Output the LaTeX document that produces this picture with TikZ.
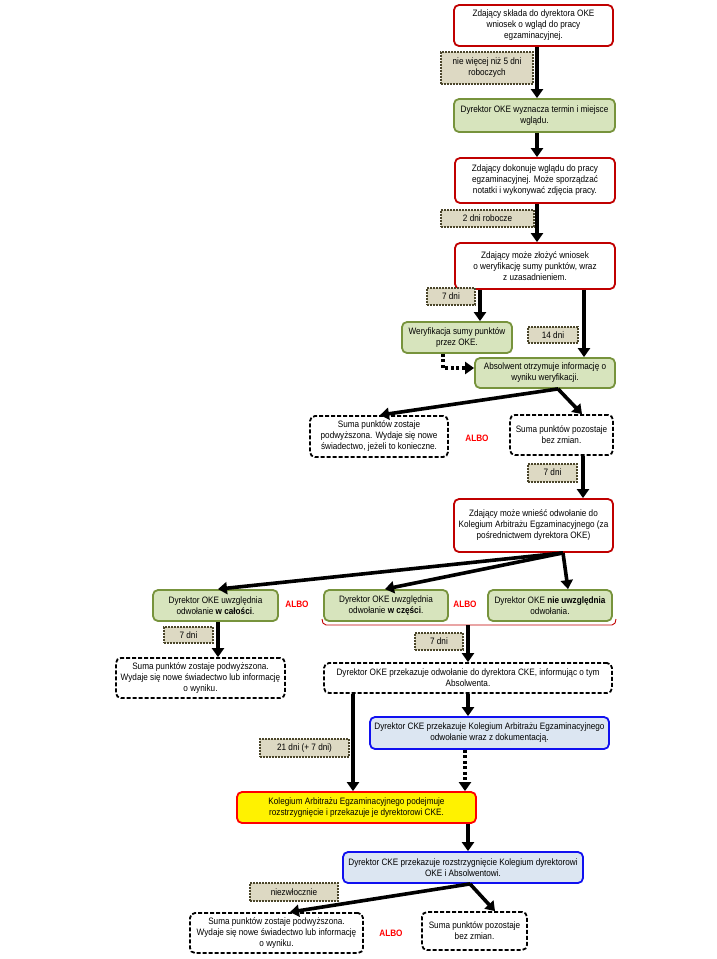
\documentclass[tikz,border=0pt]{standalone}
\usepackage{fontspec}
\setmainfont{Liberation Sans}[FakeStretch=0.88]
\usetikzlibrary{arrows.meta}
\definecolor{cred}{HTML}{C00000}
\definecolor{cgreen}{HTML}{D7E4BD}
\definecolor{cgreenD}{HTML}{77933C}
\definecolor{cblue}{HTML}{1010F0}
\definecolor{cblueF}{HTML}{DCE6F2}
\definecolor{cyelD}{HTML}{FF0000}
\definecolor{clab}{HTML}{DDD9C3}
\definecolor{clabD}{HTML}{4A452A}
\begin{document}
\begin{tikzpicture}[x=1pt,y=-1pt,
  box/.style={rounded corners=5pt, line width=1.8pt, align=center, inner sep=1pt, font=\fontsize{9.3}{11}\selectfont},
  redbox/.style={box, draw=cred, fill=white},
  greenbox/.style={box, draw=cgreenD, fill=cgreen},
  bluebox/.style={box, draw=cblue, fill=cblueF},
  yellowbox/.style={box, draw=cyelD, fill=yellow},
  dashbox/.style={box, draw=black, dash pattern=on 4pt off 2pt},
  lab/.style={draw=clabD, fill=clab, line width=2pt, dash pattern=on 2pt off 1pt, align=center, inner sep=1pt, font=\fontsize{9.3}{11}\selectfont},
  arr/.style={line width=3.6pt, -{Triangle[length=9pt,width=12pt]}},
  dotarr/.style={arr, dash pattern=on 3pt off 2.5pt},
  albo/.style={text=red, font=\fontsize{9.3}{11}\selectfont\bfseries}
]
\useasboundingbox (0,0) rectangle (716,959);

% nodes
\node[redbox, minimum width=159pt, minimum height=41pt] (b1) at (533.5,25.5) {Zdający składa do dyrektora OKE\\wniosek o wgląd do pracy\\egzaminacyjnej.};
\node[lab, minimum width=92pt, minimum height=32pt] (l1) at (487,68) {nie więcej niż 5 dni\\roboczych};
\node[greenbox, minimum width=161pt, minimum height=33pt] (b2) at (534.5,115.5) {Dyrektor OKE wyznacza termin i miejsce\\wglądu.};
\node[redbox, minimum width=160pt, minimum height=45pt] (b3) at (535,180.5) {Zdający dokonuje wglądu do pracy\\egzaminacyjnej. Może sporządzać\\notatki i wykonywać zdjęcia pracy.};
\node[lab, minimum width=93pt, minimum height=17pt] (l2) at (487.5,218.5) {2 dni robocze};
\node[redbox, minimum width=160pt, minimum height=46pt] (b4) at (535,266) {Zdający może złożyć wniosek\\o weryfikację sumy punktów, wraz\\z uzasadnieniem.};
\node[lab, minimum width=48pt, minimum height=17pt] (l3) at (451,296.5) {7 dni};
\node[greenbox, minimum width=110pt, minimum height=31pt] (b5) at (457,337.5) {Weryfikacja sumy punktów\\przez OKE.};
\node[lab, minimum width=50pt, minimum height=16pt] (l4) at (553,335) {14 dni};
\node[greenbox, minimum width=140pt, minimum height=30pt] (b6) at (545,373) {Absolwent otrzymuje informację o\\wyniku weryfikacji.};
\node[dashbox, minimum width=138pt, minimum height=41pt] (b7) at (379,436.5) {Suma punktów zostaje\\podwyższona. Wydaje się nowe\\świadectwo, jeżeli to konieczne.};
\node[albo] (a1) at (477,438) {ALBO};
\node[dashbox, minimum width=103pt, minimum height=40pt] (b8) at (561.5,435) {Suma punktów pozostaje\\bez zmian.};
\node[lab, minimum width=49pt, minimum height=18pt] (l5) at (552.5,472.5) {7 dni};
\node[redbox, minimum width=159pt, minimum height=53pt] (b9) at (533.5,525.5) {Zdający może wnieść odwołanie do\\Kolegium Arbitrażu Egzaminacyjnego (za\\pośrednictwem dyrektora OKE)};
\node[greenbox, minimum width=125pt, minimum height=31pt] (b10) at (215.5,605.5) {Dyrektor OKE uwzględnia\\odwołanie \textbf{w całości}.};
\node[albo] (a2) at (297,604) {ALBO};
\node[greenbox, minimum width=124pt, minimum height=31pt] (b11) at (386,605.5) {Dyrektor OKE uwzględnia\\odwołanie \textbf{w części}.};
\node[albo] (a3) at (465,604) {ALBO};
\node[greenbox, minimum width=124pt, minimum height=31pt] (b13) at (550,605.5) {Dyrektor OKE \textbf{nie uwzględnia}\\odwołania.};
\node[lab, minimum width=49pt, minimum height=16pt] (l6) at (188.5,635) {7 dni};
\node[dashbox, minimum width=169pt, minimum height=40pt] (b12) at (200.5,678) {Suma punktów zostaje podwyższona.\\Wydaje się nowe świadectwo lub informację\\o wyniku.};
\node[lab, minimum width=48pt, minimum height=17pt] (l7) at (439,641.5) {7 dni};
\node[dashbox, minimum width=288pt, minimum height=30pt] (b14) at (468,678) {Dyrektor OKE przekazuje odwołanie do dyrektora CKE, informując o tym\\Absolwenta.};
\node[bluebox, minimum width=239pt, minimum height=32pt] (b15) at (489.5,733) {Dyrektor CKE przekazuje Kolegium Arbitrażu Egzaminacyjnego\\odwołanie wraz z dokumentacją.};
\node[lab, minimum width=89pt, minimum height=18pt] (l8) at (304.5,748) {21 dni (+ 7 dni)};
\node[yellowbox, minimum width=239pt, minimum height=31pt] (b16) at (356.5,807.5) {Kolegium Arbitrażu Egzaminacyjnego podejmuje\\rozstrzygnięcie i przekazuje je dyrektorowi CKE.};
\node[bluebox, minimum width=240pt, minimum height=31pt] (b17) at (463,867.5) {Dyrektor CKE przekazuje rozstrzygnięcie Kolegium dyrektorowi\\OKE i Absolwentowi.};
\node[lab, minimum width=88pt, minimum height=18pt] (l9) at (294,892) {niezwłocznie};
\node[dashbox, minimum width=173pt, minimum height=40pt] (b18) at (276.5,933) {Suma punktów zostaje podwyższona.\\Wydaje się nowe świadectwo lub informację\\o wyniku.};
\node[albo] (a4) at (391,933) {ALBO};
\node[dashbox, minimum width=105pt, minimum height=38pt] (b19) at (474.5,931) {Suma punktów pozostaje\\bez zmian.};

% brace
\coordinate (brL) at (322,619);
\coordinate (brR) at (616,619);
\coordinate (brace) at (468,625);
\draw[cred, line width=0.9pt] (brL) to[out=-90,in=180] (326,625) -- (612,625) to[out=0,in=-90] (brR);

% arrows
\draw[arr] ([xshift=3.5pt]b1.south) -- ([xshift=3.5pt]b1.south |- b2.north);
\draw[arr] ([xshift=2.5pt]b2.south) -- ([xshift=2.5pt]b2.south |- b3.north);
\draw[arr] ([xshift=2pt]b3.south) -- ([xshift=2pt]b3.south |- b4.north);
\draw[arr] ([xshift=-55pt]b4.south) -- ([xshift=-55pt]b4.south |- b5.north);
\draw[arr] ([xshift=49pt]b4.south) -- ([xshift=49pt]b4.south |- b6.north);
\draw[dotarr] ([xshift=-14pt]b5.south) |- ([yshift=5pt]b6.west);
\draw[arr] ([xshift=13pt]b6.south) -- ([xshift=1pt]b7.north);
\draw[arr] ([xshift=13pt]b6.south) -- ([xshift=20.5pt]b8.north);
\draw[arr] ([xshift=21.5pt]b8.south) -- ([xshift=21.5pt]b8.south |- b9.north);
\draw[arr] ([xshift=29.5pt]b9.south) -- ([xshift=2.5pt]b10.north);
\draw[arr] ([xshift=29.5pt]b9.south) -- ([xshift=-1pt]b11.north);
\draw[arr] ([xshift=29.5pt]b9.south) -- ([xshift=18pt]b13.north);
\draw[arr] ([xshift=2.5pt]b10.south) -- ([xshift=2.5pt]b10.south |- b12.north);
\draw[arr] (brace) -- (brace |- b14.north);
\draw[arr] (b14.south) -- (b14.south |- b15.north);
\draw[arr] ([xshift=-115pt]b14.south) -- ([xshift=-115pt]b14.south |- b16.north);
\draw[dotarr] ([xshift=-24.5pt]b15.south) -- ([xshift=-24.5pt]b15.south |- b16.north);
\draw[arr] ([xshift=111.5pt]b16.south) -- ([xshift=111.5pt]b16.south |- b17.north);
\draw[arr] ([xshift=7pt]b17.south) -- ([xshift=13.5pt]b18.north);
\draw[arr] ([xshift=7pt]b17.south) -- ([xshift=20.5pt]b19.north);
\end{tikzpicture}
\end{document}
